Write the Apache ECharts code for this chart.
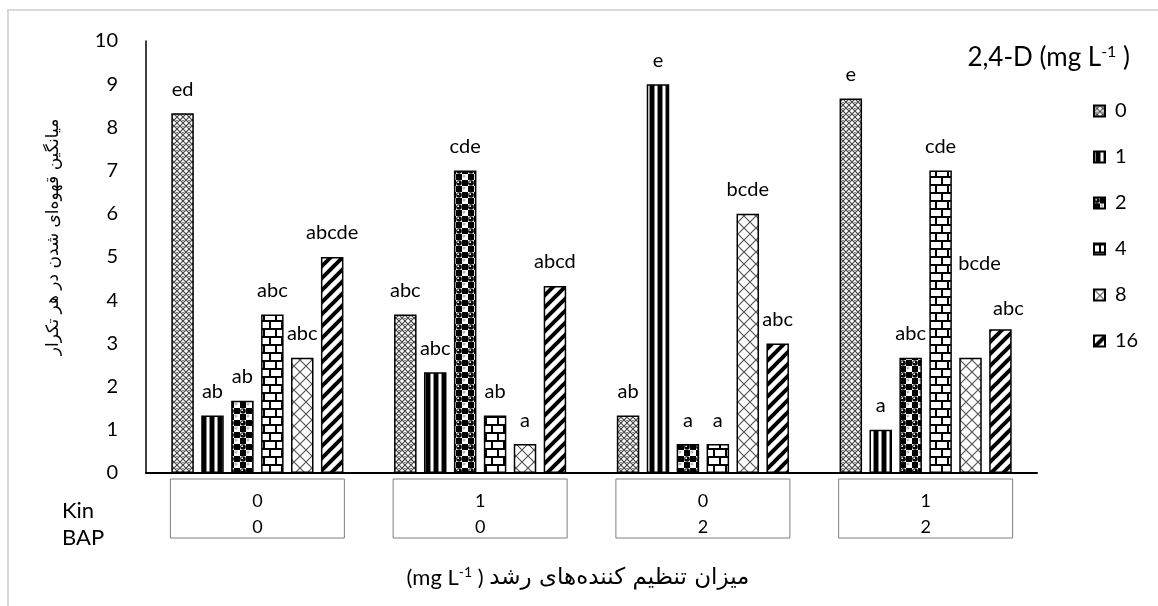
<!DOCTYPE html>
<html>
<head>
<meta charset="utf-8">
<script src="https://cdn.jsdelivr.net/npm/echarts@6/dist/echarts.min.js"></script>
<style>
  html, body { margin: 0; padding: 0; background: #fff; }
  #main { width: 1158px; height: 606px; }
</style>
</head>
<body>
<div id="main"></div>
<script>
// Kin \n BAP
var categories = ['0\n0', '1\n0', '0\n2', '1\n2'];
var seriesNames = ['0', '1', '2', '4', '8', '16'];
var yTicks = [0, 1, 2, 3, 4, 5, 6, 7, 8, 9, 10];

var v0 = [8.33, 3.67, 1.33, 8.67];
var v1 = [1.33, 2.33, 9, 1];
var v2 = [1.67, 7, 0.67, 2.67];
var v4 = [3.67, 1.33, 0.67, 7];
var v8 = [2.67, 0.67, 6, 2.67];
var v16 = [5, 4.33, 3, 3.33];

var l0 = ['ed', 'abc', 'ab', 'e'];
var l1 = ['ab', 'abc', 'e', 'a'];
var l2 = ['ab', 'cde', 'a', 'abc'];
var l4 = ['abc', 'ab', 'a', 'cde'];
var l8 = ['abc', 'a', 'bcde', 'bcde'];
var l16 = ['abcde', 'abcd', 'abc', 'abc'];

var values = [v0, v1, v2, v4, v8, v16];
var letters = [l0, l1, l2, l4, l8, l16];

var font = 'Lato, "DejaVu Sans", sans-serif';
var faFont = '"DejaVu Sans", sans-serif';

function pattern(w, h, draw) {
    var c = document.createElement('canvas');
    c.width = w;
    c.height = h;
    var ctx = c.getContext('2d');
    ctx.fillStyle = '#fff';
    ctx.fillRect(0, 0, w, h);
    draw(ctx);
    return { image: c, repeat: 'repeat' };
}

var fills = [
    // fine diamond grid
    pattern(6, 6, function (ctx) {
        ctx.strokeStyle = '#444';
        ctx.lineWidth = 1.2;
        ctx.beginPath();
        ctx.moveTo(0, 0); ctx.lineTo(6, 6);
        ctx.moveTo(6, 0); ctx.lineTo(0, 6);
        ctx.stroke();
        ctx.fillStyle = '#888';
        ctx.fillRect(2, 0, 2, 1);
    }),
    // vertical stripes
    pattern(8, 4, function (ctx) {
        ctx.fillStyle = '#000';
        ctx.fillRect(2, 0, 4, 4);
        ctx.fillStyle = '#888';
        ctx.fillRect(1, 0, 1, 4);
        ctx.fillRect(6, 0, 1, 4);
    }),
    // spheres
    pattern(12, 12, function (ctx) {
        ctx.fillStyle = '#000';
        ctx.fillRect(6, 0, 6, 6);
        ctx.fillRect(0, 6, 6, 6);
        ctx.beginPath();
        ctx.arc(3, 3, 2.8, 0, Math.PI * 2);
        ctx.fill();
        ctx.fillStyle = '#bbb';
        ctx.beginPath();
        ctx.arc(8, 8, 1.6, 0, Math.PI * 2);
        ctx.fill();
        ctx.fillStyle = '#fff';
        ctx.beginPath();
        ctx.arc(2.2, 2.2, 0.9, 0, Math.PI * 2);
        ctx.fill();
    }),
    // horizontal brick
    pattern(12, 16, function (ctx) {
        ctx.fillStyle = '#000';
        ctx.fillRect(0, 0, 12, 2);
        ctx.fillRect(0, 8, 12, 2);
        ctx.fillRect(5, 0, 2, 8);
        ctx.fillRect(0, 8, 1, 8);
        ctx.fillRect(11, 8, 1, 8);
    }),
    // wide diagonal cross
    pattern(12, 12, function (ctx) {
        ctx.strokeStyle = '#555';
        ctx.lineWidth = 1.2;
        ctx.beginPath();
        ctx.moveTo(0, 0); ctx.lineTo(12, 12);
        ctx.moveTo(12, 0); ctx.lineTo(0, 12);
        ctx.stroke();
    }),
    // wide upward diagonal
    pattern(12, 12, function (ctx) {
        ctx.strokeStyle = '#000';
        ctx.lineWidth = 4;
        ctx.beginPath();
        ctx.moveTo(-2, 14); ctx.lineTo(14, -2);
        ctx.moveTo(-8, 8); ctx.lineTo(8, -8);
        ctx.moveTo(4, 20); ctx.lineTo(20, 4);
        ctx.stroke();
    })
];

// a few labels sit away from their bars in the original
var labelShift = { '4-3': [9, -70], '5-3': [8, 3] };

var series = seriesNames.map(function (name, i) {
    return {
        name: name,
        type: 'bar',
        barWidth: 22.5,
        barGap: '33%',
        data: values[i].map(function (v, j) {
            var item = { value: v };
            var s = labelShift[i + '-' + j];
            if (s) item.label = { offset: s };
            return item;
        }),
        itemStyle: {
            color: fills[i],
            borderColor: '#000',
            borderWidth: 1.5
        },
        label: {
            show: true,
            position: 'top',
            distance: 13,
            fontFamily: font,
            fontSize: 20,
            lineHeight: 22,
            color: '#000',
            formatter: function (p) { return letters[i][p.dataIndex]; }
        }
    };
});

var chart = echarts.init(document.getElementById('main'));

var option = {
    backgroundColor: '#fff',
    animation: false,
    grid: { left: 146, right: 121, top: 41, bottom: 133 },
    legend: {
        data: seriesNames,
        orient: 'vertical',
        left: 1088,
        top: 96,
        itemWidth: 11,
        itemHeight: 11,
        itemGap: 26,
        icon: 'rect',
        textStyle: { fontFamily: font, fontSize: 20, color: '#000', lineHeight: 12, padding: [0, 0, 0, 5] }
    },
    xAxis: {
        type: 'category',
        data: categories,
        axisLine: { lineStyle: { color: '#000', width: 2 } },
        axisTick: { show: false },
        axisLabel: {
            interval: 0,
            margin: 6,
            fontFamily: font,
            fontSize: 18,
            color: '#000',
            lineHeight: 26,
            width: 174,
            height: 50,
            padding: [9, 0, 0, 0],
            borderColor: '#7f7f7f',
            borderWidth: 1,
            align: 'center',
            verticalAlign: 'top'
        }
    },
    yAxis: {
        type: 'value',
        min: 0,
        max: 10,
        interval: 1,
        splitLine: { show: false },
        axisLine: { show: true, lineStyle: { color: '#000', width: 1.5 } },
        axisTick: { show: false },
        axisLabel: {
            margin: 28,
            fontFamily: font,
            fontSize: 20,
            color: '#000',
            formatter: function (v) { return yTicks.indexOf(v) >= 0 ? String(v) : ''; }
        }
    },
    graphic: [
        {
            type: 'rect',
            shape: { x: 8, y: 10, width: 1200, height: 700 },
            style: { fill: 'none', stroke: '#d9d9d9', lineWidth: 2 },
            silent: true
        },
        {
            type: 'text',
            x: 54,
            y: 237,
            rotation: Math.PI / 2,
            style: {
                text: 'میانگین قهوه‌ای شدن در هر تکرار',
                font: '17px ' + faFont,
                fill: '#000',
                align: 'center',
                verticalAlign: 'middle'
            }
        },
        {
            type: 'text',
            x: 62,
            y: 511,
            style: { text: 'Kin', font: '22px ' + font, fill: '#000', align: 'left', verticalAlign: 'middle' }
        },
        {
            type: 'text',
            x: 62,
            y: 538,
            style: { text: 'BAP', font: '22px ' + font, fill: '#000', align: 'left', verticalAlign: 'middle' }
        },
        {
            type: 'text',
            x: 1130,
            y: 58,
            style: {
                text: '{a|2,4-D (mg L}{s|-1}{a| )}',
                align: 'right',
                verticalAlign: 'middle',
                rich: {
                    a: { fontFamily: font, fontSize: 26, color: '#000', lineHeight: 30 },
                    s: { fontFamily: font, fontSize: 16, color: '#000', padding: [0, 0, 12, 0] }
                }
            }
        },
        {
            type: 'text',
            x: 578,
            y: 578,
            style: {
                text: '{a|(mg L}{s|-1}{a| ) }{f|میزان تنظیم کننده‌های رشد}',
                align: 'center',
                verticalAlign: 'middle',
                rich: {
                    a: { fontFamily: font, fontSize: 22, color: '#000', lineHeight: 28 },
                    s: { fontFamily: font, fontSize: 14, color: '#000', padding: [0, 0, 12, 0] },
                    f: { fontFamily: faFont, fontSize: 23, color: '#000', lineHeight: 28 }
                }
            }
        }
    ],
    series: series
};

chart.setOption(option);
</script>
</body>
</html>
